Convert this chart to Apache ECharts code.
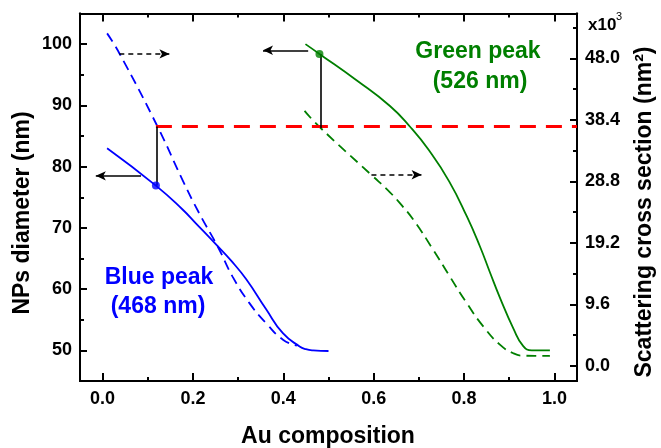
<!DOCTYPE html>
<html>
<head>
<meta charset="utf-8">
<script src="https://cdn.jsdelivr.net/npm/echarts@6/dist/echarts.min.js"></script>
<style>
html,body{margin:0;padding:0;background:#fff;}
#chart{width:661px;height:448px;}
</style>
</head>
<body>
<div id="chart"></div>
<script>
// ---------- data ----------
const xTicksMajor = [0, 0.2, 0.4, 0.6, 0.8, 1.0];
const xTicksMinor = [0.1, 0.3, 0.5, 0.7, 0.9];
const leftTicksMajor = [50, 60, 70, 80, 90, 100];
const leftTicksMinor = [55, 65, 75, 85, 95];
const rightTicksMajor = [0, 9.6, 19.2, 28.8, 38.4, 48.0];
const rightTicksMinor = [4.8, 14.4, 24.0, 33.6, 43.2, 52.8];

// Blue peak (468 nm): diameter (left axis) and scattering cross section x10^3 nm^2 (right axis)
const blueDiameter = [[0.01,83.0],[0.118,76.9],[0.177,73.0],[0.207,70.7],[0.251,67.3],[0.285,64.6],[0.318,61.6],[0.362,56.7],[0.399,52.8],[0.436,50.65],[0.45,50.2],[0.466,50.0],[0.5,49.9]];
const blueScattering = [[0.01,51.9],[0.037,48.8],[0.122,37.3],[0.177,29.0],[0.214,23.8],[0.255,18.6],[0.288,13.9],[0.325,9.8],[0.362,6.66],[0.4,4.06],[0.43,3.17]];
// Green peak (526 nm)
const greenDiameter = [[0.449,100.0],[0.48,98.4],[0.562,94.1],[0.636,89.9],[0.68,86.55],[0.722,82.7],[0.767,77.6],[0.806,71.9],[0.835,67.0],[0.857,62.8],[0.88,58.5],[0.909,53.6],[0.931,50.7],[0.95,50.0],[0.99,50.0]];
const greenScattering = [[0.447,39.8],[0.48,37.3],[0.595,29.8],[0.636,27.1],[0.658,25.4],[0.688,22.8],[0.732,18.1],[0.769,13.9],[0.806,9.8],[0.843,6.13],[0.88,3.28],[0.909,1.98],[0.931,1.6],[0.983,1.56],[0.99,1.58]];

// reference level (red dashed) in diameter units, and marked points
const refLevel = 86.55;
const refStartX = 0.118;
const refEndX = 1.05;
const bluePoint = [0.118, 76.9];
const greenPoint = [0.48, 98.4];

// annotation arrows (diameter-axis coordinates)
const arrowBlueDashed = [[0.037, 98.4], [0.148, 98.4]];
const arrowBlueSolid = [[0.085, 78.5], [-0.015, 78.5]];
const lineBlueVertical = [[0.119, 76.9], [0.119, 86.55]];
const arrowGreenSolid = [[0.455, 99.0], [0.355, 99.0]];
const lineGreenVertical = [[0.482, 98.4], [0.482, 86.3]];
const arrowGreenDashed = [[0.595, 78.67], [0.706, 78.67]];

// ---------- chart ----------
const FONT = '"Liberation Sans", Arial, Helvetica, sans-serif';
const BLUE = '#0000ff';
const GREEN = '#007f00';
const RED = '#ff0000';

function tickAxis(base, ticks, len, labels, fmt, margin) {
  return Object.assign({
    type: 'value',
    axisLine: { show: true, onZero: false, lineStyle: { color: '#000', width: 2 } },
    axisTick: { show: true, inside: true, length: len, customValues: ticks, lineStyle: { color: '#000', width: 2 } },
    axisLabel: labels ? {
      show: true, customValues: ticks, formatter: fmt, margin: margin,
      fontSize: 18, fontWeight: 'bold', color: '#000', fontFamily: FONT
    } : { show: false },
    splitLine: { show: false },
    minorTick: { show: false }
  }, base);
}

const xr = { min: -0.05, max: 1.05 };
const lr = { min: 45, max: 105 };
const rr = { min: -2.35, max: 55 };

const xAxis = [
  tickAxis(Object.assign({ position: 'bottom' }, xr), xTicksMajor, 8, true, v => v.toFixed(1), 9),
  tickAxis(Object.assign({ position: 'bottom' }, xr), xTicksMinor, 4, false),
  tickAxis(Object.assign({ position: 'top' }, xr), xTicksMajor, 8, false),
  tickAxis(Object.assign({ position: 'top' }, xr), xTicksMinor, 4, false)
];
const yAxis = [
  tickAxis(Object.assign({ position: 'left' }, lr), leftTicksMajor, 7, true, v => String(v), 8),
  tickAxis(Object.assign({ position: 'left' }, lr), leftTicksMinor, 4, false),
  tickAxis(Object.assign({ position: 'right' }, rr), rightTicksMajor, 7, true, v => v.toFixed(1), 8),
  tickAxis(Object.assign({ position: 'right' }, rr), rightTicksMinor, 4, false)
];

function lineSeries(name, data, yIdx, color, dashed) {
  return {
    name: name, type: 'line', xAxisIndex: 0, yAxisIndex: yIdx, data: data,
    smooth: 0.5, symbol: 'none', silent: true,
    lineStyle: { color: color, width: 1.8, type: dashed ? [10, 6] : 'solid' }
  };
}

function seg(pts, dashed, arrow) {
  return [
    { coord: pts[0], symbol: 'none', lineStyle: { color: '#000', width: 1.6, type: dashed ? [5, 4] : 'solid' } },
    { coord: pts[1], symbol: arrow ? 'arrow' : 'none' }
  ];
}

const option = {
  animation: false,
  backgroundColor: '#fff',
  grid: { left: 80, right: 84, top: 13.5, bottom: 67, containLabel: false },
  xAxis: xAxis,
  yAxis: yAxis,
  series: [
    lineSeries('Blue diameter', blueDiameter, 0, BLUE, false),
    lineSeries('Blue scattering', blueScattering, 2, BLUE, true),
    lineSeries('Green diameter', greenDiameter, 0, GREEN, false),
    lineSeries('Green scattering', greenScattering, 2, GREEN, true),
    {
      name: 'Reference', type: 'line', xAxisIndex: 0, yAxisIndex: 0, symbol: 'none', silent: true,
      data: [[refStartX, refLevel], [refEndX, refLevel]],
      lineStyle: { color: RED, width: 3, type: [16, 10] },
      markLine: {
        silent: true, animation: false, symbolSize: [7, 10],
        label: { show: false }, emphasis: { disabled: true },
        data: [
          seg(arrowBlueDashed, true, true),
          seg(arrowBlueSolid, false, true),
          seg(lineBlueVertical, false, false),
          seg(arrowGreenSolid, false, true),
          seg(lineGreenVertical, false, false),
          seg(arrowGreenDashed, true, true)
        ]
      },
      z: 3
    },
    {
      name: 'Points', type: 'scatter', xAxisIndex: 0, yAxisIndex: 0, symbolSize: 8, silent: true,
      data: [
        { value: bluePoint, itemStyle: { color: BLUE } },
        { value: greenPoint, itemStyle: { color: GREEN } }
      ],
      z: 5
    }
  ],
  graphic: [
    { type: 'text', x: 23, y: 213, rotation: Math.PI / 2,
      style: { text: 'NPs diameter (nm)', fill: '#000', font: 'bold 23px ' + FONT, align: 'center', verticalAlign: 'middle', textAlign: 'center', textVerticalAlign: 'middle' } },
    { type: 'text', x: 328, y: 437,
      style: { text: 'Au composition', fill: '#000', font: 'bold 23px ' + FONT, align: 'center', verticalAlign: 'middle', textAlign: 'center', textVerticalAlign: 'middle' } },
    { type: 'text', x: 645, y: 212, rotation: Math.PI / 2,
      style: { text: 'Scattering cross section (nm²)', fill: '#000', font: 'bold 23px ' + FONT, align: 'center', verticalAlign: 'middle', textAlign: 'center', textVerticalAlign: 'middle' } },
    { type: 'text', x: 588, y: 25,
      style: { text: 'x10', fill: '#000', font: 'bold 17px ' + FONT, align: 'left', verticalAlign: 'middle', textAlign: 'left', textVerticalAlign: 'middle' } },
    { type: 'text', x: 616, y: 17,
      style: { text: '3', fill: '#000', font: '11px ' + FONT, align: 'left', verticalAlign: 'middle', textAlign: 'left', textVerticalAlign: 'middle' } },
    { type: 'text', x: 159, y: 278,
      style: { text: 'Blue peak', fill: BLUE, font: 'bold 23px ' + FONT, align: 'center', verticalAlign: 'middle', textAlign: 'center', textVerticalAlign: 'middle' } },
    { type: 'text', x: 158, y: 307,
      style: { text: '(468 nm)', fill: BLUE, font: 'bold 23px ' + FONT, align: 'center', verticalAlign: 'middle', textAlign: 'center', textVerticalAlign: 'middle' } },
    { type: 'text', x: 478, y: 52,
      style: { text: 'Green peak', fill: GREEN, font: 'bold 23px ' + FONT, align: 'center', verticalAlign: 'middle', textAlign: 'center', textVerticalAlign: 'middle' } },
    { type: 'text', x: 480, y: 82,
      style: { text: '(526 nm)', fill: GREEN, font: 'bold 23px ' + FONT, align: 'center', verticalAlign: 'middle', textAlign: 'center', textVerticalAlign: 'middle' } }
  ]
};

const chart = echarts.init(document.getElementById('chart'), null, { renderer: 'canvas' });
chart.setOption(option);
</script>
</body>
</html>
